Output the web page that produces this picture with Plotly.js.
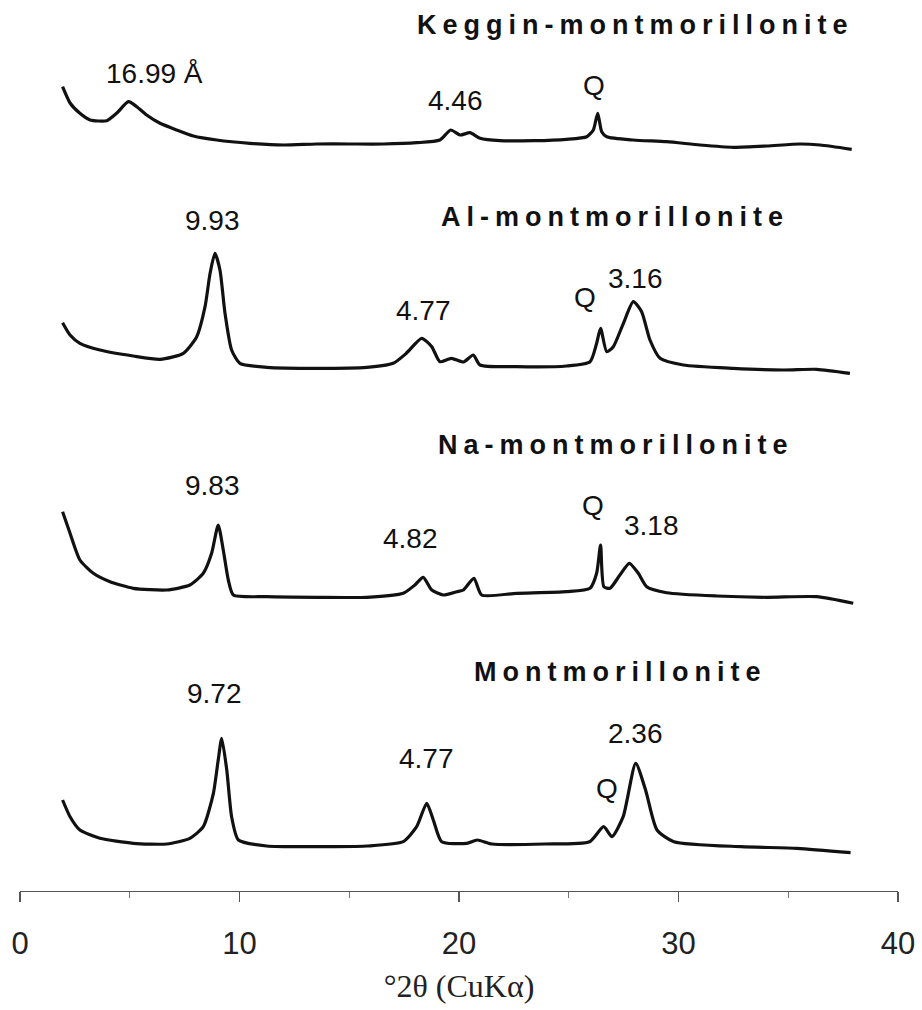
<!DOCTYPE html>
<html>
<head>
<meta charset="utf-8">
<script src="https://cdn.plot.ly/plotly-3.0.1.min.js"></script>
<style>
html,body{margin:0;padding:0;background:#fff;}
#chart g.annotation[data-index="0"] text,
#chart g.annotation[data-index="1"] text,
#chart g.annotation[data-index="2"] text,
#chart g.annotation[data-index="3"] text{letter-spacing:6px;}
</style>
</head>
<body>
<div id="chart" style="width:922px;height:1010px;"></div>
<script>
// ---- data (2θ in degrees, intensity in arbitrary units above each pattern's own baseline) ----
const sampleNames = ["Keggin-montmorillonite", "Al-montmorillonite", "Na-montmorillonite", "Montmorillonite"];

const kegginX = [1.94,2.28,2.73,3.19,3.95,4.40,4.94,5.32,5.77,6.38,7.14,7.90,8.96,10.48,12.0,13.5,15.0,16.55,18.07,19.13,19.62,20.05,20.5,20.96,21.87,23.4,24.9,25.82,26.12,26.32,26.5,26.73,27.94,29.46,30.98,32.5,34.02,35.54,36.45,37.89];
const kegginY = [65.3,49,38.7,32,31.3,38.7,50.3,45.3,37,28.7,22,16,12,8.7,7,8,8,8,9.3,12,22,17,19.3,13.7,11.3,11.3,12.7,15.3,22,38.7,20.3,15.3,12,10.3,7,4.7,6,8,7,2.7];

const alX = [1.94,2.28,2.73,3.64,5.16,6.38,7.44,8.05,8.43,8.66,8.88,9.11,9.34,9.64,10.02,11.24,13.52,15.8,17.0,17.6,18.3,18.76,19.13,19.65,20.2,20.65,20.96,22.63,24.9,25.97,26.27,26.45,26.73,27.03,27.49,27.94,28.32,28.7,29.16,30.22,32.5,34.78,36.3,37.81];
const alY = [52.3,40,31.7,25,19,15.7,21.7,38.3,68.3,101.7,121.7,105,61.7,25,11.7,7.7,6.7,7.7,11.7,21.7,36.7,28.3,13.3,16.7,13,20,10,8.3,9,13.3,31.7,46.7,23.3,28.3,51.7,73.3,63.3,35,16.7,10,6.7,5,5.7,1.7];

const naX = [1.94,2.28,2.73,3.34,4.1,5.16,6.68,7.74,8.35,8.73,9.03,9.26,9.49,9.72,11.24,13.52,15.8,17.46,17.99,18.37,18.76,19.29,19.9,20.2,20.68,21.03,22.63,24.9,25.97,26.27,26.45,26.6,26.88,27.33,27.76,28.17,28.55,29.46,31.74,34.02,36.3,37.96];
const naY = [93.3,71.7,45,31.7,23.3,16.7,15,20,31.7,51.7,80,55,25,10,8.3,7.7,7.7,11.7,20,27.7,15,10,13.3,15,26.7,10,11.7,13.3,16.7,31.7,60,18.3,16.7,30,41.7,31.7,18.3,12.3,9,7.7,8.3,1.7];

const montX = [1.94,2.28,2.73,3.64,5.16,6.68,7.74,8.35,8.81,9.03,9.19,9.42,9.64,9.95,11.24,13.52,15.8,17.46,18.07,18.53,18.83,19.21,20.35,20.83,21.5,23.9,25.95,26.59,26.97,27.48,28.05,28.5,29.02,29.79,32.86,35.41,37.84];
const montY = [55,38.3,25,16.7,11.7,11,16.7,28.3,61.7,95,116.7,85,38.3,15,9,8.3,9,13.3,28.3,51.7,35,13.3,11.7,15,11,11,13.3,28.3,18.3,38.3,91.7,65,25,13.3,8.3,6.7,2.3];

const xTickVals = [0, 10, 20, 30, 40];
const xTickText = ["0", "10", "20", "30", "40"];
const xMinorVals = [5, 15, 25, 35];

// peak labels (d-spacings in Å and quartz marks)
const kegginPeaks = ["16.99 Å", "4.46", "Q"];
const alPeaks = ["9.93", "4.77", "Q", "3.16"];
const naPeaks = ["9.83", "4.82", "Q", "3.18"];
const montPeaks = ["9.72", "4.77", "Q", "2.36"];

// ---- layout helpers (vertical stacking offsets) ----
const stackOffset = [739, 516, 286, 36];
const seriesX = [kegginX, alX, naX, montX];
const seriesY = [kegginY, alY, naY, montY];

const traces = seriesX.map((xs, i) => ({
  type: 'scatter', mode: 'lines', name: sampleNames[i],
  x: xs,
  y: seriesY[i].map(v => v + stackOffset[i]),
  line: {color: '#111', width: 3.2, shape: 'spline', smoothing: 0.6},
  hoverinfo: 'skip'
}));

const numFont = {family: 'Liberation Sans, Arial, sans-serif', size: 28, color: '#111'};
const boldFont = {family: 'Liberation Sans, Arial, sans-serif', size: 27, color: '#111', weight: 'bold'};

function lab(text, x, y, font) {
  return {text: text, x: x, y: y, xref: 'x', yref: 'y', showarrow: false,
          xanchor: 'center', yanchor: 'middle', font: font};
}

const annotations = [
  lab('<b>' + sampleNames[0] + '</b>', 28.02, 866, boldFont),
  lab('<b>' + sampleNames[1] + '</b>', 27.11, 674, boldFont),
  lab('<b>' + sampleNames[2] + '</b>', 27.15, 446, boldFont),
  lab('<b>' + sampleNames[3] + '</b>', 27.33, 219, boldFont),
  lab(kegginPeaks[0], 6.15, 818, numFont),
  lab(kegginPeaks[1], 19.82, 791, numFont),
  lab(kegginPeaks[2], 26.15, 806, numFont),
  lab(alPeaks[0], 8.75, 671, numFont),
  lab(alPeaks[1], 18.36, 581, numFont),
  lab(alPeaks[2], 25.74, 594, numFont),
  lab(alPeaks[3], 28.02, 613, numFont),
  lab(naPeaks[0], 8.75, 406, numFont),
  lab(naPeaks[1], 17.81, 353, numFont),
  lab(naPeaks[2], 26.1, 386, numFont),
  lab(naPeaks[3], 28.75, 366, numFont),
  lab(montPeaks[0], 8.88, 198, numFont),
  lab(montPeaks[1], 18.5, 133, numFont),
  lab(montPeaks[2], 26.74, 103, numFont),
  lab(montPeaks[3], 28.02, 158, numFont)
];

const layout = {
  width: 922, height: 1010,
  margin: {l: 20, r: 24, t: 0, b: 119},
  paper_bgcolor: '#fff', plot_bgcolor: '#fff',
  showlegend: false,
  xaxis: {
    range: [0, 40], showgrid: false, zeroline: false,
    showline: true, linecolor: '#555', linewidth: 1.2,
    ticks: 'outside', tickcolor: '#555', tickwidth: 1.2, ticklen: 10,
    tickvals: xTickVals, ticktext: xTickText,
    minor: {tickvals: xMinorVals, ticks: 'outside', ticklen: 6, tickcolor: '#777', tickwidth: 1},
    tickfont: {family: 'Liberation Sans, Arial, sans-serif', size: 31, color: '#222'},
    ticklabelstandoff: 15,
    title: {text: '°2θ (CuKα)', font: {family: 'Liberation Serif, Times New Roman, serif', size: 32, color: '#222'}, standoff: 14},
    automargin: true,
    fixedrange: true
  },
  yaxis: {range: [0, 891], visible: false, fixedrange: true},
  annotations: annotations
};

Plotly.newPlot('chart', traces, layout, {displayModeBar: false, staticPlot: true});
</script>
</body>
</html>
